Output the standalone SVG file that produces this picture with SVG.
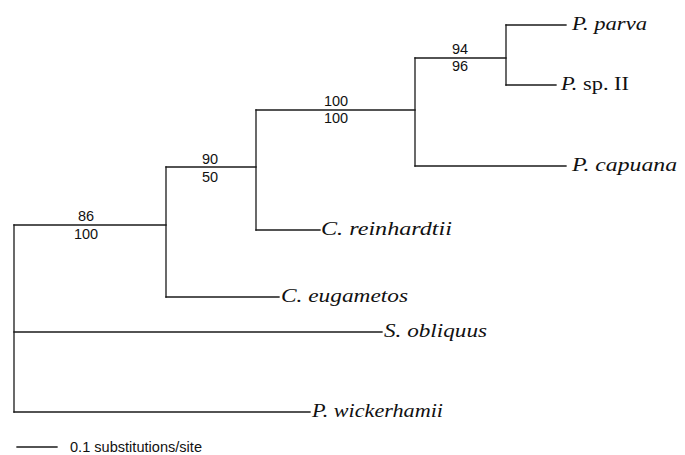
<svg xmlns="http://www.w3.org/2000/svg" width="685" height="455" viewBox="0 0 685 455">
  <style>
    .br { fill: none; stroke: #1a1a1a; stroke-width: 1.3; stroke-linecap: square; }
    .sp { font-family: "Liberation Serif", "Times New Roman", serif; font-size: 19px; font-style: italic; fill: #111; }
    .up { font-style: normal; }
    .bs { font-family: "Liberation Sans", Arial, sans-serif; font-size: 14.5px; fill: #111; text-anchor: middle; }
    .sc { font-family: "Liberation Sans", Arial, sans-serif; font-size: 14px; fill: #111; }
  </style>
  <rect width="685" height="455" fill="#ffffff"/>

  <!-- tree branches -->
  <g id="connectors">
    <!-- root -->
    <path class="br" d="M14 225 V412"/>
    <path class="br" d="M14 225 H166"/>
    <path class="br" d="M14 332 H382"/>
    <path class="br" d="M14 412 H310"/>
    <!-- node A -->
    <path class="br" d="M166 167 V297"/>
    <path class="br" d="M166 297 H279"/>
    <path class="br" d="M166 167 H256"/>
    <!-- node B -->
    <path class="br" d="M256 110 V230"/>
    <path class="br" d="M256 230 H320"/>
    <path class="br" d="M256 110 H415"/>
    <!-- node C -->
    <path class="br" d="M415 58 V166"/>
    <path class="br" d="M415 166 H566"/>
    <path class="br" d="M415 58 H506"/>
    <!-- node D -->
    <path class="br" d="M506 25 V85"/>
    <path class="br" d="M506 25 H566"/>
    <path class="br" d="M506 85 H556"/>
  </g>

  <!-- bootstrap support values -->
  <g id="node-A-support">
    <text class="bs" x="86" y="221">86</text>
    <text class="bs" x="86" y="239">100</text>
  </g>
  <g id="node-B-support">
    <text class="bs" x="210" y="164">90</text>
    <text class="bs" x="210" y="182">50</text>
  </g>
  <g id="node-C-support">
    <text class="bs" x="336" y="106">100</text>
    <text class="bs" x="336" y="123">100</text>
  </g>
  <g id="node-D-support">
    <text class="bs" x="460" y="54">94</text>
    <text class="bs" x="460" y="71">96</text>
  </g>

  <!-- taxa -->
  <g id="taxon-p-parva"><text class="sp" x="572" y="30" textLength="75" lengthAdjust="spacingAndGlyphs">P. parva</text></g>
  <g id="taxon-p-sp-ii"><text class="sp" x="561" y="90" textLength="68" lengthAdjust="spacingAndGlyphs">P.<tspan class="up"> sp. II</tspan></text></g>
  <g id="taxon-p-capuana"><text class="sp" x="572" y="171" textLength="105" lengthAdjust="spacingAndGlyphs">P. capuana</text></g>
  <g id="taxon-c-reinhardtii"><text class="sp" x="321" y="235" textLength="131" lengthAdjust="spacingAndGlyphs">C. reinhardtii</text></g>
  <g id="taxon-c-eugametos"><text class="sp" x="281" y="302" textLength="127" lengthAdjust="spacingAndGlyphs">C. eugametos</text></g>
  <g id="taxon-s-obliquus"><text class="sp" x="384" y="337" textLength="103" lengthAdjust="spacingAndGlyphs">S. obliquus</text></g>
  <g id="taxon-p-wickerhamii"><text class="sp" x="312" y="417" textLength="131" lengthAdjust="spacingAndGlyphs">P. wickerhamii</text></g>

  <!-- scale bar -->
  <g id="scale-bar">
    <path class="br" d="M17 447 H57"/>
    <text class="sc" x="70" y="452" textLength="132" lengthAdjust="spacingAndGlyphs">0.1 substitutions/site</text>
  </g>
</svg>
